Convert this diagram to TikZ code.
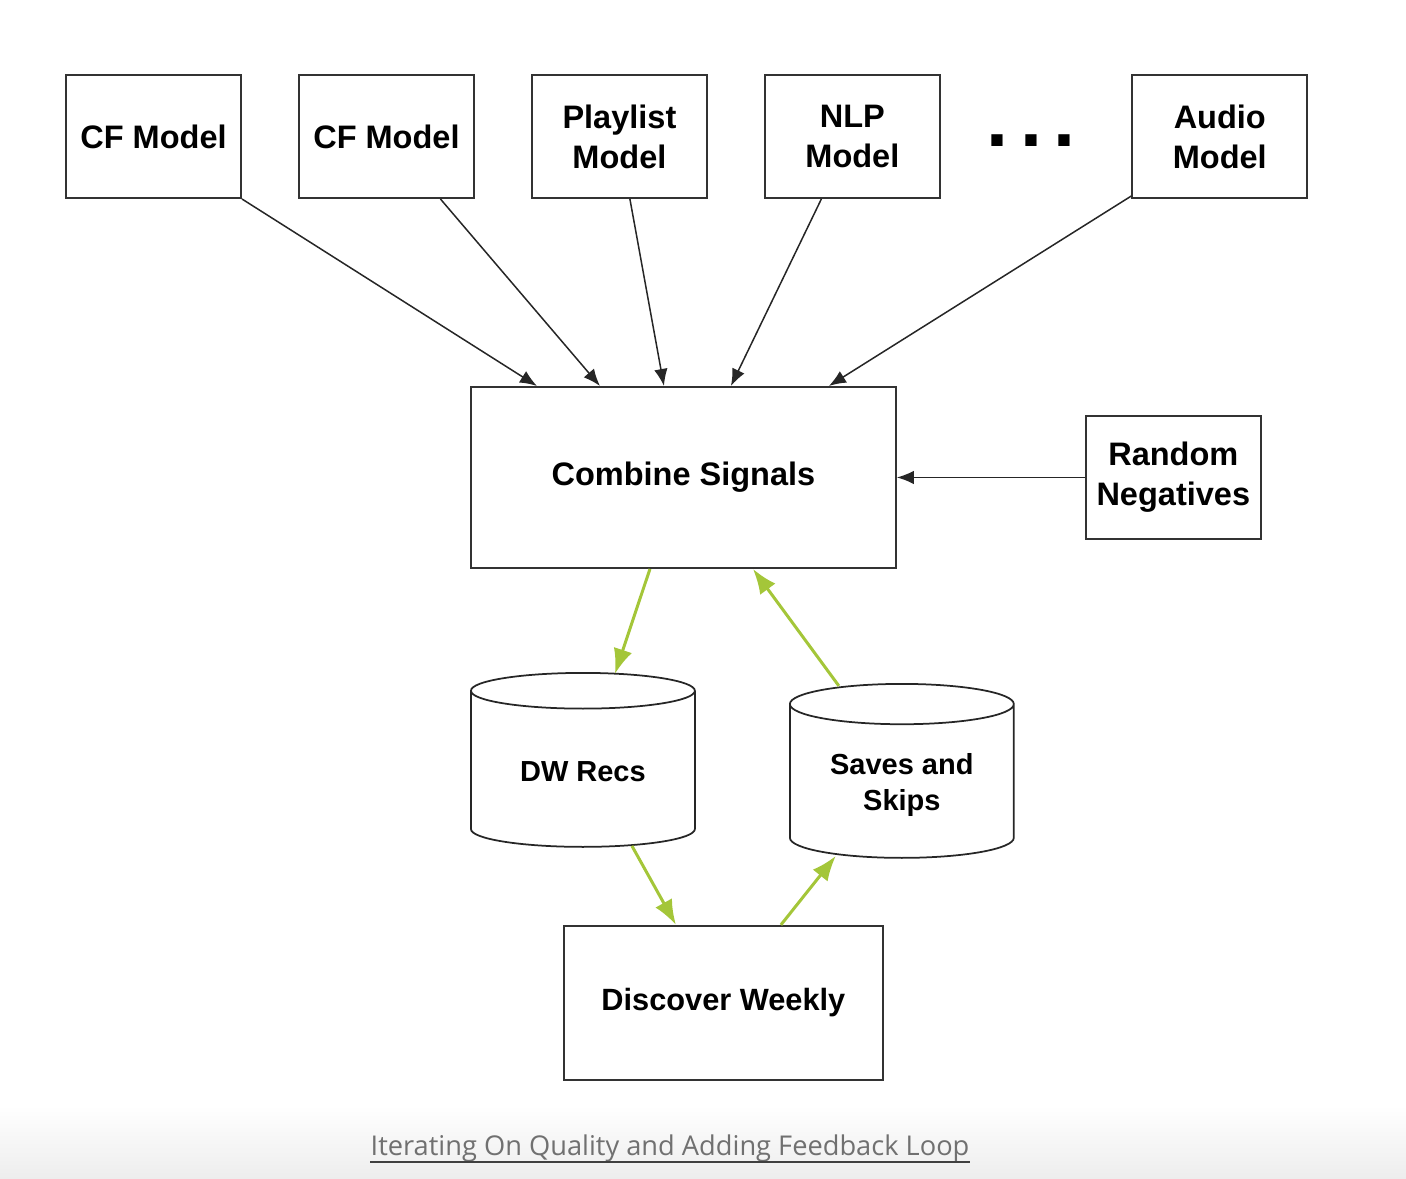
\documentclass[tikz,border=0pt]{standalone}
\usepackage{fontspec}
\setmainfont{Liberation Sans}
\newfontfamily\captionfont{Open Sans}
\usetikzlibrary{positioning,calc,arrows.meta,shapes.geometric}
\definecolor{feedgreen}{RGB}{164,198,57}
\definecolor{capgray}{RGB}{112,112,112}
\begin{document}
\begin{tikzpicture}[
    x=0.02cm, y=-0.02cm,
    node distance=4.66cm,
    block/.style={rectangle, draw=black!80, line width=0.04cm, minimum width=3.5cm, minimum height=2.46cm, align=center, font=\fontsize{18.5}{22.7}\selectfont\bfseries},
    store/.style={cylinder, shape border rotate=90, aspect=0.26, draw=black!85, line width=0.035cm, minimum width=4.48cm, minimum height=3.48cm, align=center, font=\fontsize{16.5}{20.5}\selectfont\bfseries},
    arrow/.style={line width=0.03cm, draw=black!85, -{Latex[length=0.34cm, width=0.27cm]}},
    feed/.style={line width=0.06cm, draw=feedgreen, -{Latex[length=0.5cm, width=0.38cm]}}
]
    \useasboundingbox (0,0) rectangle (1406,1178);
    \shade[top color=white, bottom color=black!7] (0,1105) rectangle (1406,1178);

    % model row
    \node [block] (cf1) at (153.5,136.5) {CF Model};
    \node [block, right of=cf1] (cf2) {CF Model};
    \node [block, right of=cf2] (playlist) {Playlist\\Model};
    \node [block, right of=playlist] (nlp) {NLP\\Model};
    \node [block, right of=nlp, xshift=2.69cm] (audio) {Audio\\Model};
    \node [anchor=base, inner sep=0, font=\fontsize{45}{45}\selectfont\bfseries] (dots) at (1031,146) {.\hspace{6.5pt}.\hspace{6.5pt}.};

    \node [block, below of=playlist, node distance=6.82cm, xshift=1.28cm, minimum width=8.5cm, minimum height=3.62cm] (combine) {Combine Signals};
    \node [block, right of=combine, node distance=9.8cm] (randneg) {Random\\Negatives};

    % feedback loop
    \node [store, below of=combine, node distance=5.65cm, xshift=-2.01cm, anchor=shape center] (dwrecs) {DW Recs};
    \node [store, below of=combine, node distance=5.87cm, xshift=4.37cm, anchor=shape center] (saves) {Saves and\\Skips};
    \node [block, below of=combine, node distance=10.51cm, xshift=0.8cm, minimum width=6.38cm, minimum height=3.08cm, font=\fontsize{17.5}{21}\selectfont\bfseries] (discover) {Discover Weekly};

    \node [anchor=base, inner sep=0, text=capgray, font=\captionfont\fontsize{15.5}{18}\selectfont] (caption) at (670,1155) {Iterating On Quality and Adding Feedback Loop};
    \draw [line width=0.04cm, black!75] ($(caption.base west)+(0,7)$) -- ($(caption.base east)+(0,7)$);

    \draw [arrow] (cf1.south east) -- ($(combine.north west)+(67,0)$);
    \draw [arrow] ($(cf2.south)+(54,0)$) -- ($(combine.north west)+(130,0)$);
    \draw [arrow] ($(playlist.south)+(10.5,0)$) -- ($(combine.north west)+(194,0)$);
    \draw [arrow] ($(nlp.south)+(-31,0)$) -- ($(combine.north west)+(261,0)$);
    \draw [arrow] ($(audio.south west)+(0,-3)$) -- ($(combine.north west)+(359,0)$);
    \draw [arrow] (randneg.west) -- (combine.east);

    \draw [feed] ($(combine.south west)+(180,0)$) -- ($(dwrecs.shape center)+(32,-86)$);
    \draw [feed] ($(saves.shape center)+(-63,-85)$) -- ($(combine.south west)+(283,0)$);
    \draw [feed] ($(dwrecs.shape center)+(49,86)$) -- ($(discover.north west)+(113,0)$);
    \draw [feed] ($(discover.north west)+(218,0)$) -- ($(saves.shape center)+(-66,85)$);
\end{tikzpicture}
\end{document}
